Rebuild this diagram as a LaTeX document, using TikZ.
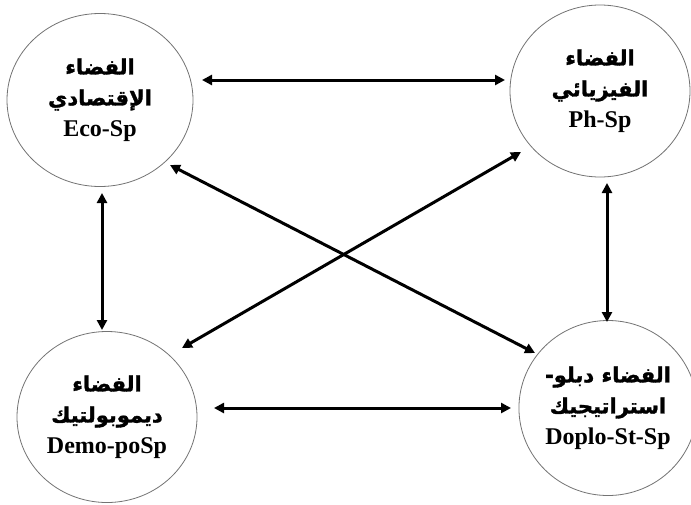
\documentclass[tikz,border=0pt]{standalone}
\usepackage{fontspec}
\setmainfont{Liberation Serif}
\newfontfamily\arabicfont[Script=Arabic,BoldFont={DejaVu Sans Bold},BoldFeatures={FakeBold=1.5}]{DejaVu Sans}
\TeXXeTstate=1
\usetikzlibrary{shapes.geometric,arrows.meta}
\newcommand{\ar}[1]{{\arabicfont\bfseries\fontsize{21}{31}\selectfont\beginR #1\endR}}
\newcommand{\la}[1]{{\bfseries\fontsize{24}{31}\selectfont #1}}
\begin{document}
\begin{tikzpicture}[x=1pt,y=-1pt,
  space/.style={ellipse,draw=black!55,line width=0.8pt,fill=white,align=center,
    inner sep=0pt,font=\fontsize{21}{31}\selectfont},
  link/.style={line width=3pt,{Triangle[length=10pt,width=10pt]}-{Triangle[length=10pt,width=10pt]}}]
\useasboundingbox (0,0) rectangle (691,504);
% the four spaces
\node[space,minimum width=186,minimum height=173] (eco) at (100,100)
  {\ar{الفضاء}\\ \ar{الإقتصادي}\\ \la{Eco-Sp}};
\node[space,minimum width=180,minimum height=172] (ph) at (600,91)
  {\ar{الفضاء}\\ \ar{الفيزيائي}\\ \la{Ph-Sp}};
\node[space,minimum width=180,minimum height=171] (demo) at (107,417)
  {\ar{الفضاء}\\ \ar{ديموبولتيك}\\ \la{Demo-poSp}};
\node[space,minimum width=174,minimum height=175] (dip) at (608,408)
  {\ar{الفضاء دبلو-}\\ \ar{استراتيجيك}\\ \la{Doplo-St-Sp}};
% arrow end points beside each space
\coordinate (ecoE) at (202,80);
\coordinate (phW) at (505,80);
\coordinate (ecoS) at (102,193);
\coordinate (demoN) at (102,330);
\coordinate (phS) at (607,183);
\coordinate (dipN) at (607,322);
\coordinate (demoE) at (214,408);
\coordinate (dipW) at (511,408);
\coordinate (ecoSE) at (170,165);
\coordinate (dipNW) at (535,353);
\coordinate (phSW) at (521,152);
\coordinate (demoNE) at (182,348);
% relations between the spaces
\draw[link] (ecoE) -- (phW);
\draw[link] (ecoS) -- (demoN);
\draw[link] (phS) -- (dipN);
\draw[link] (demoE) -- (dipW);
\draw[link] (ecoSE) -- (dipNW);
\draw[link] (phSW) -- (demoNE);
\end{tikzpicture}
\end{document}
